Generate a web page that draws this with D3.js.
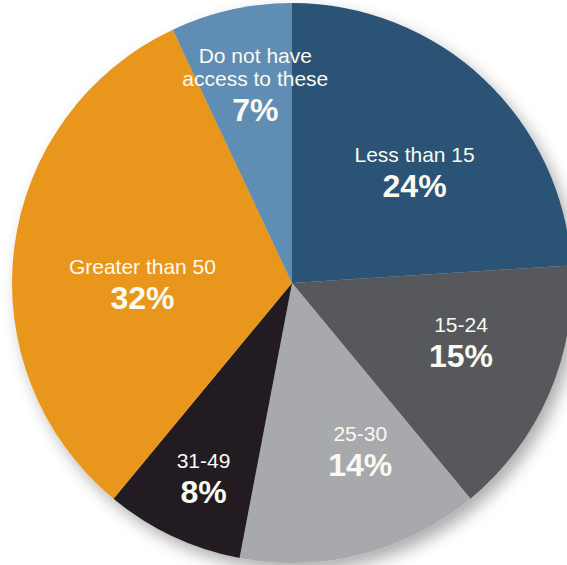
<!DOCTYPE html>
<html>
<head>
<meta charset="utf-8">
<script src="https://cdn.jsdelivr.net/npm/d3@7/dist/d3.min.js"></script>
<style>
  html, body { margin: 0; padding: 0; background: #ffffff; }
  svg { display: block; }
</style>
</head>
<body>
<svg id="chart" width="567" height="565"></svg>
<script>
// ---- data ----
const categories = ["Less than 15", "15-24", "25-30", "31-49", "Greater than 50", "Do not have access to these"];
const nameLines = [["Less than 15"], ["15-24"], ["25-30"], ["31-49"], ["Greater than 50"], ["Do not have", "access to these"]];
const values = [24, 15, 14, 8, 32, 7];
const pctLabels = ["24%", "15%", "14%", "8%", "32%", "7%"];
const colors = ["#2b5276", "#57595c", "#a7a9ac", "#231f20", "#e9961f", "#5f8db3"];

// ---- layout (not data) ----
const W = 567, H = 565;
const cx = 292, cy = 283, R = 280;
const labelR = 182;
const labelNudge = [[-2, 30], [2, -5], [23, 0], [-11, 38], [31, 32], [3, -1]];

const svg = d3.select("#chart");
const defs = svg.append("defs");
const f = defs.append("filter").attr("id", "shadow")
  .attr("x", "-20%").attr("y", "-20%").attr("width", "140%").attr("height", "140%");
f.append("feDropShadow").attr("dx", 6).attr("dy", 8).attr("stdDeviation", 8)
  .attr("flood-color", "#000").attr("flood-opacity", 0.32);

const rows = categories.map((c, i) => ({ c, v: values[i], lines: nameLines[i], pct: pctLabels[i], col: colors[i], i }));

const pie = d3.pie().sort(null).value(d => d.v).startAngle(0).endAngle(2 * Math.PI);
const arcs = pie(rows);
const arc = d3.arc().innerRadius(0).outerRadius(R);
const labelArc = d3.arc().innerRadius(labelR).outerRadius(labelR);

const g = svg.append("g").attr("transform", `translate(${cx},${cy})`);
g.append("g").attr("filter", "url(#shadow)")
  .selectAll("path").data(arcs).join("path")
  .attr("d", arc)
  .attr("fill", d => d.data.col);

const lab = g.selectAll("g.lab").data(arcs).join("g").attr("class", "lab")
  .attr("transform", d => {
    const [x, y] = labelArc.centroid(d);
    const n = labelNudge[d.data.i];
    return `translate(${x + n[0]},${y + n[1]})`;
  });

lab.each(function(d) {
  const sel = d3.select(this);
  const lines = d.data.lines;
  const nL = lines.length;
  lines.forEach((t, k) => {
    sel.append("text")
      .attr("x", 0)
      .attr("y", -18 - (nL - 1 - k) * 23)
      .attr("text-anchor", "middle")
      .attr("font-family", "'Liberation Sans', Arial, Helvetica, sans-serif")
      .attr("font-size", 21)
      .attr("fill", "#fbfaf2")
      .text(t);
  });
  sel.append("text")
    .attr("x", 0)
    .attr("y", 17)
    .attr("text-anchor", "middle")
    .attr("font-family", "'Liberation Sans', Arial, Helvetica, sans-serif")
    .attr("font-weight", "bold")
    .attr("font-size", 32)
    .attr("fill", "#fbfaf2")
    .text(d.data.pct);
});
</script>
</body>
</html>
